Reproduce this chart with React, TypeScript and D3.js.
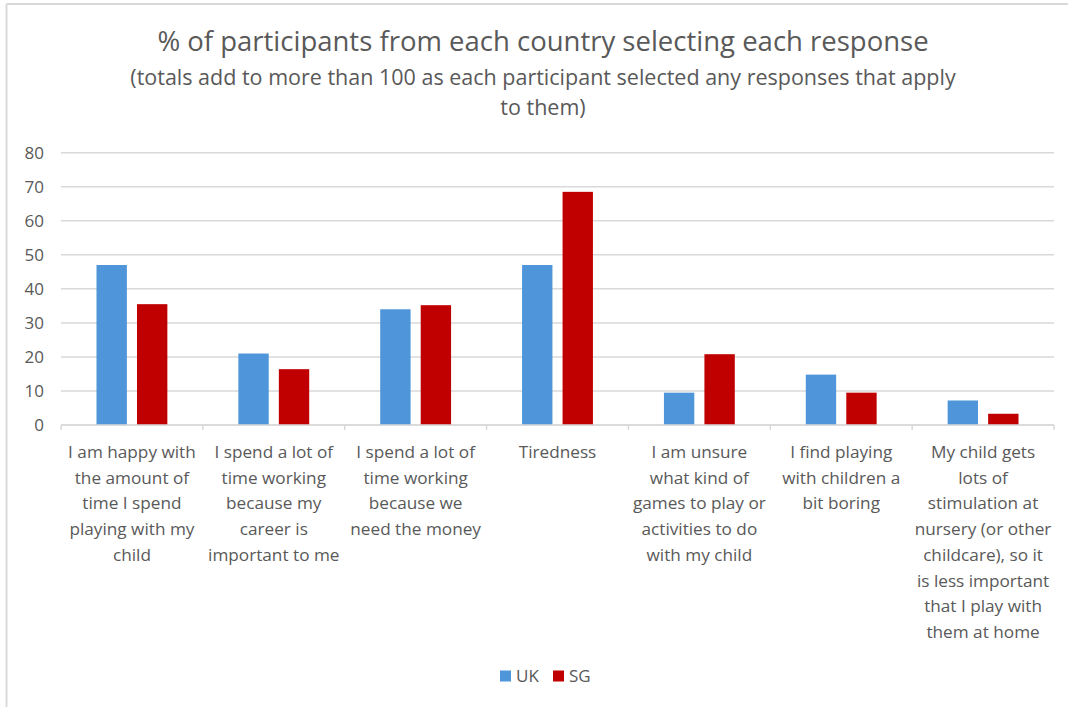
import React from "react";
import * as d3 from "d3";

const categories: string[][] = [
  ["I am happy with", "the amount of", "time I spend", "playing with my", "child"],
  ["I spend a lot of", "time working", "because my", "career is", "important to me"],
  ["I spend a lot of", "time working", "because we", "need the money"],
  ["Tiredness"],
  ["I am unsure", "what kind of", "games to play or", "activities to do", "with my child"],
  ["I find playing", "with children a", "bit boring"],
  ["My child gets", "lots of", "stimulation at", "nursery (or other", "childcare), so it", "is less important", "that I play with", "them at home"],
];
const ukValues = [47, 21, 34, 47, 9.5, 14.8, 7.2];
const sgValues = [35.5, 16.4, 35.2, 68.5, 20.8, 9.5, 3.3];
const seriesNames = ["UK", "SG"];
const seriesColors = ["#4e95d9", "#c00000"];
const yTicks = [0, 10, 20, 30, 40, 50, 60, 70, 80];
const titleText = "% of participants from each country selecting each response";
const subtitleLines = [
  "(totals add to more than 100 as each participant selected any responses that apply",
  "to them)",
];

const W = 1068;
const H = 707;
const FONT = "'Open Sans', 'Noto Sans', sans-serif";
const TEXT = "#595959";

export default function App() {
  const left = 61;
  const right = 1054;
  const top = 152.7;
  const bottom = 425;
  const idx = categories.map((_, i) => String(i));
  const x0 = d3.scaleBand<string>().domain(idx).range([left, right]).padding(0);
  const bw = x0.bandwidth();
  const x1 = d3
    .scaleBand<string>()
    .domain(seriesNames)
    .range([35.5, bw - 35.5])
    .paddingInner(0.25);
  const y = d3.scaleLinear().domain([0, 80]).range([bottom, top]);
  const values = [ukValues, sgValues];

  return (
    <svg
      width={W}
      height={H}
      style={{ position: "absolute", left: 0, top: 0, background: "#fff" }}
      fontFamily={FONT}
    >
      <rect x={0} y={0} width={W} height={H} fill="#fff" />
      <line x1={6.5} x2={W} y1={4} y2={4} stroke="#d9d9d9" strokeWidth={2} />
      <line x1={6.5} x2={6.5} y1={4} y2={H} stroke="#d9d9d9" strokeWidth={2} />

      <text x={543} y={51} textAnchor="middle" fontSize={27.5} fill={TEXT}>
        {titleText}
      </text>
      {subtitleLines.map((l, i) => (
        <text key={i} x={543} y={85 + i * 30} textAnchor="middle" fontSize={21.5} fill={TEXT}>
          {l}
        </text>
      ))}

      {yTicks.map((t) => (
        <g key={t}>
          <line x1={left} x2={right} y1={y(t)} y2={y(t)} stroke="#d9d9d9" strokeWidth={1.5} />
          <text x={44} y={y(t)} dy="0.35em" textAnchor="end" fontSize={17} fill={TEXT}>
            {t}
          </text>
        </g>
      ))}

      {idx.map((c, i) => (
        <g key={c}>
          {values.map((vals, s) => (
            <rect
              key={s}
              x={(x0(c) as number) + (x1(seriesNames[s]) as number)}
              y={y(vals[i])}
              width={x1.bandwidth()}
              height={y(0) - y(vals[i])}
              fill={seriesColors[s]}
            />
          ))}
        </g>
      ))}

      <line x1={left} x2={right} y1={bottom} y2={bottom} stroke="#d9d9d9" strokeWidth={1.5} />
      {d3.range(categories.length + 1).map((i) => (
        <line
          key={i}
          x1={left + i * bw}
          x2={left + i * bw}
          y1={bottom}
          y2={bottom + 5}
          stroke="#d9d9d9"
          strokeWidth={1.5}
        />
      ))}

      {categories.map((lines, i) => (
        <text
          key={i}
          x={(x0(String(i)) as number) + bw / 2}
          textAnchor="middle"
          fontSize={17.2}
          fill={TEXT}
        >
          {lines.map((l, j) => (
            <tspan key={j} x={(x0(String(i)) as number) + bw / 2} y={458 + j * 25.7}>
              {l}
            </tspan>
          ))}
        </text>
      ))}

      {seriesNames.map((n, s) => {
        const lx = [500, 553][s];
        return (
          <g key={n}>
            <rect x={lx} y={670.5} width={11} height={11} fill={seriesColors[s]} />
            <text x={lx + 16} y={676} dy="0.35em" fontSize={17} fill={TEXT}>
              {n}
            </text>
          </g>
        );
      })}
    </svg>
  );
}
